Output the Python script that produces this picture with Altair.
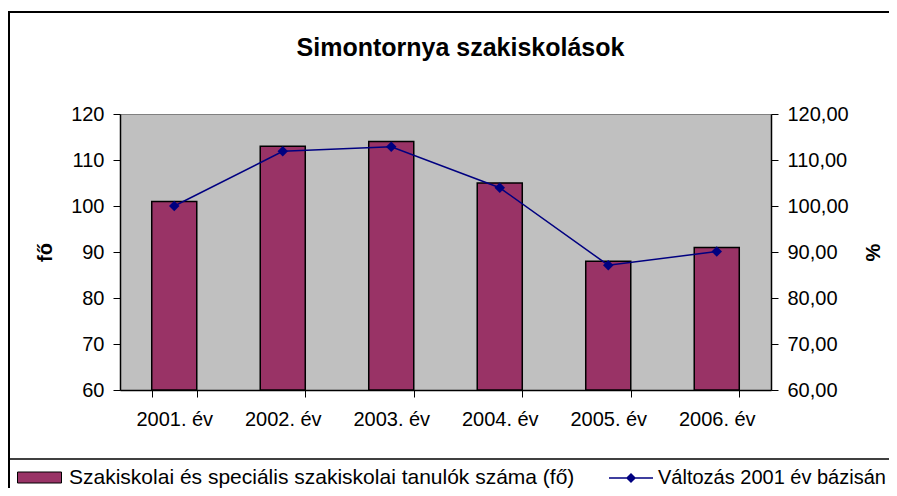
import altair as alt
import pandas as pd

years = ["2001. év", "2002. év", "2003. év", "2004. év", "2005. év", "2006. év"]
students = [101, 113, 114, 105, 88, 91]
change = [100.00, 111.88, 112.87, 103.96, 87.13, 90.10]
yticks = [60, 70, 80, 90, 100, 110, 120]

bar_label = "Szakiskolai és speciális szakiskolai tanulók száma (fő)"
line_label = "Változás 2001 év bázisán"
title_text = "Simontornya szakiskolások"

FONT = "Liberation Sans"
FS = 20
LFS = 21

df = pd.DataFrame({"year": years, "students": students, "change": change,
                   "sbar": [bar_label] * len(years), "sline": [line_label] * len(years)})
one = pd.DataFrame({"k": [0]})

x_enc = alt.X(
    "year:N", sort=years, title=None,
    scale=alt.Scale(paddingInner=0.585, paddingOuter=0.2925),
    axis=alt.Axis(labelAngle=0, tickBand="extent", tickSize=7, labelPadding=12,
                  domainColor="black", tickColor="black", domainWidth=1.5,
                  labelFontSize=FS, labelFont=FONT, labelColor="black", grid=False),
)

yscale = alt.Scale(domain=[60, 120], nice=False, zero=False)

y_right = alt.Y("change:Q", scale=yscale,
                axis=alt.Axis(orient="right", values=yticks, title="%", grid=False,
                              labelExpr="replace(format(datum.value, '.2f'), '.', ',')",
                              tickSize=7, labelPadding=9, domainColor="black", tickColor="black",
                              domainWidth=1.5, labelFontSize=FS, labelFont=FONT, labelColor="black",
                              titleFont=FONT, titleFontSize=FS, titleFontWeight="bold",
                              titleX=102, titleY=138, titleAngle=270, titleAlign="center",
                              titleBaseline="middle", titleColor="black"))

bars = alt.Chart(df).mark_bar(stroke="black", strokeWidth=1.5).encode(
    x=x_enc,
    y=alt.Y("students:Q", scale=yscale,
            axis=alt.Axis(orient="left", values=yticks, title="fő", grid=False,
                          tickSize=7, labelPadding=9, domainColor="black", tickColor="black",
                          domainWidth=1.5, labelFontSize=FS, labelFont=FONT, labelColor="black",
                          titleFont=FONT, titleFontSize=FS, titleFontWeight="bold",
                          titleX=-75, titleY=138, titleAngle=270, titleAlign="center",
                          titleBaseline="middle", titleColor="black")),
    y2=alt.datum(60),
    fill=alt.Fill("sbar:N",
                  scale=alt.Scale(domain=[bar_label], range=["#993366"]),
                  legend=alt.Legend(title=None, orient="none", legendX=-103, legendY=341,
                                    padding=0, symbolType="M-1,-0.25H1V0.25H-1Z",
                                    symbolSize=1936, symbolStrokeColor="black",
                                    symbolStrokeWidth=1, labelFont=FONT, labelFontSize=LFS,
                                    labelColor="black", labelOffset=7, labelLimit=800)),
)

line = alt.Chart(df).mark_line(color="#000080", strokeWidth=1.5).encode(
    x=x_enc,
    y=y_right,
)

points = alt.Chart(df).mark_point(shape="diamond", filled=True, size=110, opacity=1).encode(
    x=x_enc,
    y=y_right,
    color=alt.Color("sline:N",
                    scale=alt.Scale(domain=[line_label], range=["#000080"]),
                    legend=alt.Legend(title=None, orient="none", legendX=488, legendY=341,
                                      padding=0,
                                      symbolType="M-1,0H1M0,-0.18L0.18,0L0,0.18L-0.18,0Z",
                                      symbolSize=1936, symbolStrokeColor="#000080",
                                      symbolFillColor="#000080", symbolStrokeWidth=1.5,
                                      labelFont=FONT, labelFontSize=20, labelColor="black",
                                      labelOffset=4, labelLimit=800)),
)

border = alt.Chart(one).mark_rect(fillOpacity=0, stroke="black", strokeWidth=2).encode(
    x=alt.value(-111), x2=alt.value(900), y=alt.value(-102), y2=alt.value(520)
)
legend_line = alt.Chart(one).mark_rule(color="black", strokeWidth=1.5).encode(
    x=alt.value(-112), x2=alt.value(900), y=alt.value(345)
)

chart = alt.layer(
    bars, alt.layer(line, points), border, legend_line
).resolve_scale(y="independent").properties(
    width=651, height=276,
    autosize=alt.AutoSizeParams(type="none"),
    padding={"left": 112, "top": 106, "right": 118, "bottom": 98},
    title=alt.Title(title_text, font=FONT, fontSize=25, fontWeight="bold", color="black",
                    anchor="middle", offset=-70, baseline="alphabetic", dx=15),
    background="white",
).configure_view(fill="#C0C0C0", stroke="#808080", strokeWidth=1)

chart.save("out.html", embed_options={"renderer": "svg", "actions": False})
